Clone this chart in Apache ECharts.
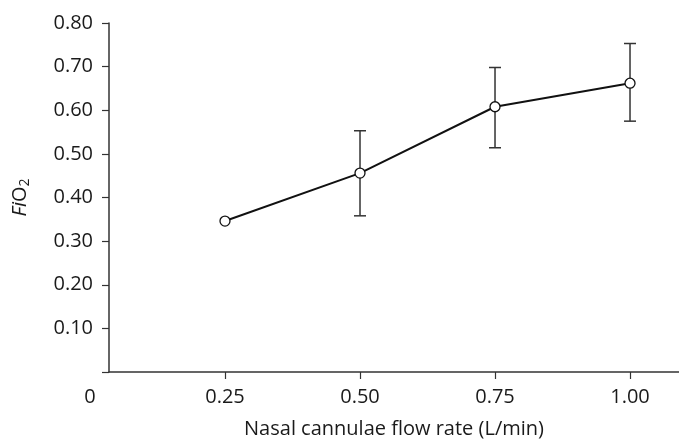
<!DOCTYPE html>
<html>
<head>
<meta charset="utf-8">
<script src="https://cdn.jsdelivr.net/npm/echarts@6/dist/echarts.min.js"></script>
<style>
  html, body { margin: 0; padding: 0; background: #fff; }
  #chart { width: 679px; height: 443px; }
</style>
</head>
<body>
<div id="chart"></div>
<script>
// Flow rates (L/min) and mean FiO2 with error-bar limits
var flowRates = [0.25, 0.50, 0.75, 1.00];
var fio2Mean = [0.346, 0.456, 0.608, 0.662];
var fio2Low  = [null, 0.358, 0.514, 0.575];
var fio2High = [null, 0.553, 0.698, 0.753];

var xTickValues = [0.25, 0.5, 0.75, 1.0];
var yTickLabels = ['0.10', '0.20', '0.30', '0.40', '0.50', '0.60', '0.70', '0.80'];

var FONT = '"Open Sans", "Noto Sans", sans-serif';
var FS = 20;
var TEXT = '#1a1a1a';
var AXIS = '#333';

var chart = echarts.init(document.getElementById('chart'), null, { renderer: 'canvas' });

var lineData = flowRates.map(function (x, i) { return [x, fio2Mean[i]]; });
var errData = [];
flowRates.forEach(function (x, i) {
  if (fio2Low[i] != null) errData.push([x, fio2Low[i], fio2High[i]]);
});

var option = {
  animation: false,
  backgroundColor: '#fff',
  grid: { left: 109, right: 0, top: 23, bottom: 71, containLabel: false, outerBoundsMode: 'none' },
  xAxis: {
    type: 'value',
    min: 0.0352,
    max: 1.0907,
    name: 'Nasal cannulae flow rate (L/min)',
    nameLocation: 'middle',
    nameGap: 47,
    nameTextStyle: { fontFamily: FONT, fontSize: FS, color: TEXT },
    splitLine: { show: false },
    axisLine: { lineStyle: { color: AXIS, width: 1.5 } },
    axisTick: { show: true, length: 7, customValues: xTickValues, lineStyle: { color: AXIS, width: 1.2 } },
    axisLabel: {
      customValues: xTickValues,
      margin: 15,
      fontFamily: FONT, fontSize: FS, color: TEXT,
      formatter: function (v) { return v.toFixed(2); }
    }
  },
  yAxis: {
    type: 'value',
    min: 0,
    max: 0.8,
    interval: 0.1,
    name: '{i|Fi}O{s|2}',
    nameLocation: 'middle',
    nameGap: 77,
    nameRotate: 90,
    nameTextStyle: {
      fontFamily: FONT, fontSize: FS, color: TEXT,
      rich: {
        i: { fontFamily: FONT, fontSize: FS, fontStyle: 'italic', color: TEXT },
        s: { fontFamily: FONT, fontSize: 14, color: TEXT, verticalAlign: 'bottom', padding: [9, 0, 0, 0] }
      }
    },
    splitLine: { show: false },
    axisLine: { show: true, lineStyle: { color: AXIS, width: 1.5 } },
    axisTick: { show: true, length: 7, lineStyle: { color: AXIS, width: 1.2 } },
    axisLabel: {
      margin: 16,
      fontFamily: FONT, fontSize: FS, color: TEXT,
      formatter: function (v) {
        var idx = Math.round(v * 10) - 1;
        return idx >= 0 ? yTickLabels[idx] : '';
      }
    }
  },
  series: [
    {
      type: 'custom',
      name: 'range',
      z: 1,
      data: errData,
      renderItem: function (params, api) {
        var x = api.value(0);
        var lo = api.coord([x, api.value(1)]);
        var hi = api.coord([x, api.value(2)]);
        var half = 6;
        var style = { stroke: '#333', lineWidth: 1.5 };
        return {
          type: 'group',
          children: [
            { type: 'line', shape: { x1: hi[0], y1: hi[1], x2: lo[0], y2: lo[1] }, style: style },
            { type: 'line', shape: { x1: hi[0] - half, y1: hi[1], x2: hi[0] + half, y2: hi[1] }, style: style },
            { type: 'line', shape: { x1: lo[0] - half, y1: lo[1], x2: lo[0] + half, y2: lo[1] }, style: style }
          ]
        };
      }
    },
    {
      type: 'line',
      name: 'FiO2',
      z: 3,
      data: lineData,
      symbol: 'circle',
      symbolSize: 10,
      showAllSymbol: true,
      lineStyle: { color: '#111', width: 2 },
      itemStyle: { color: '#fff', borderColor: '#111', borderWidth: 1.3 }
    }
  ]
};

chart.setOption(option);

// Origin label "0" on the flow-rate axis, placed through the x scale
var zeroX = chart.convertToPixel({ xAxisIndex: 0 }, 0);
var axisY = chart.convertToPixel({ yAxisIndex: 0 }, 0);
chart.setOption({
  graphic: [{
    type: 'text',
    x: zeroX,
    y: axisY + 15,
    style: { text: '0', fontFamily: FONT, fontSize: FS, fill: TEXT, textAlign: 'center', textVerticalAlign: 'top' }
  }]
});
</script>
</body>
</html>
